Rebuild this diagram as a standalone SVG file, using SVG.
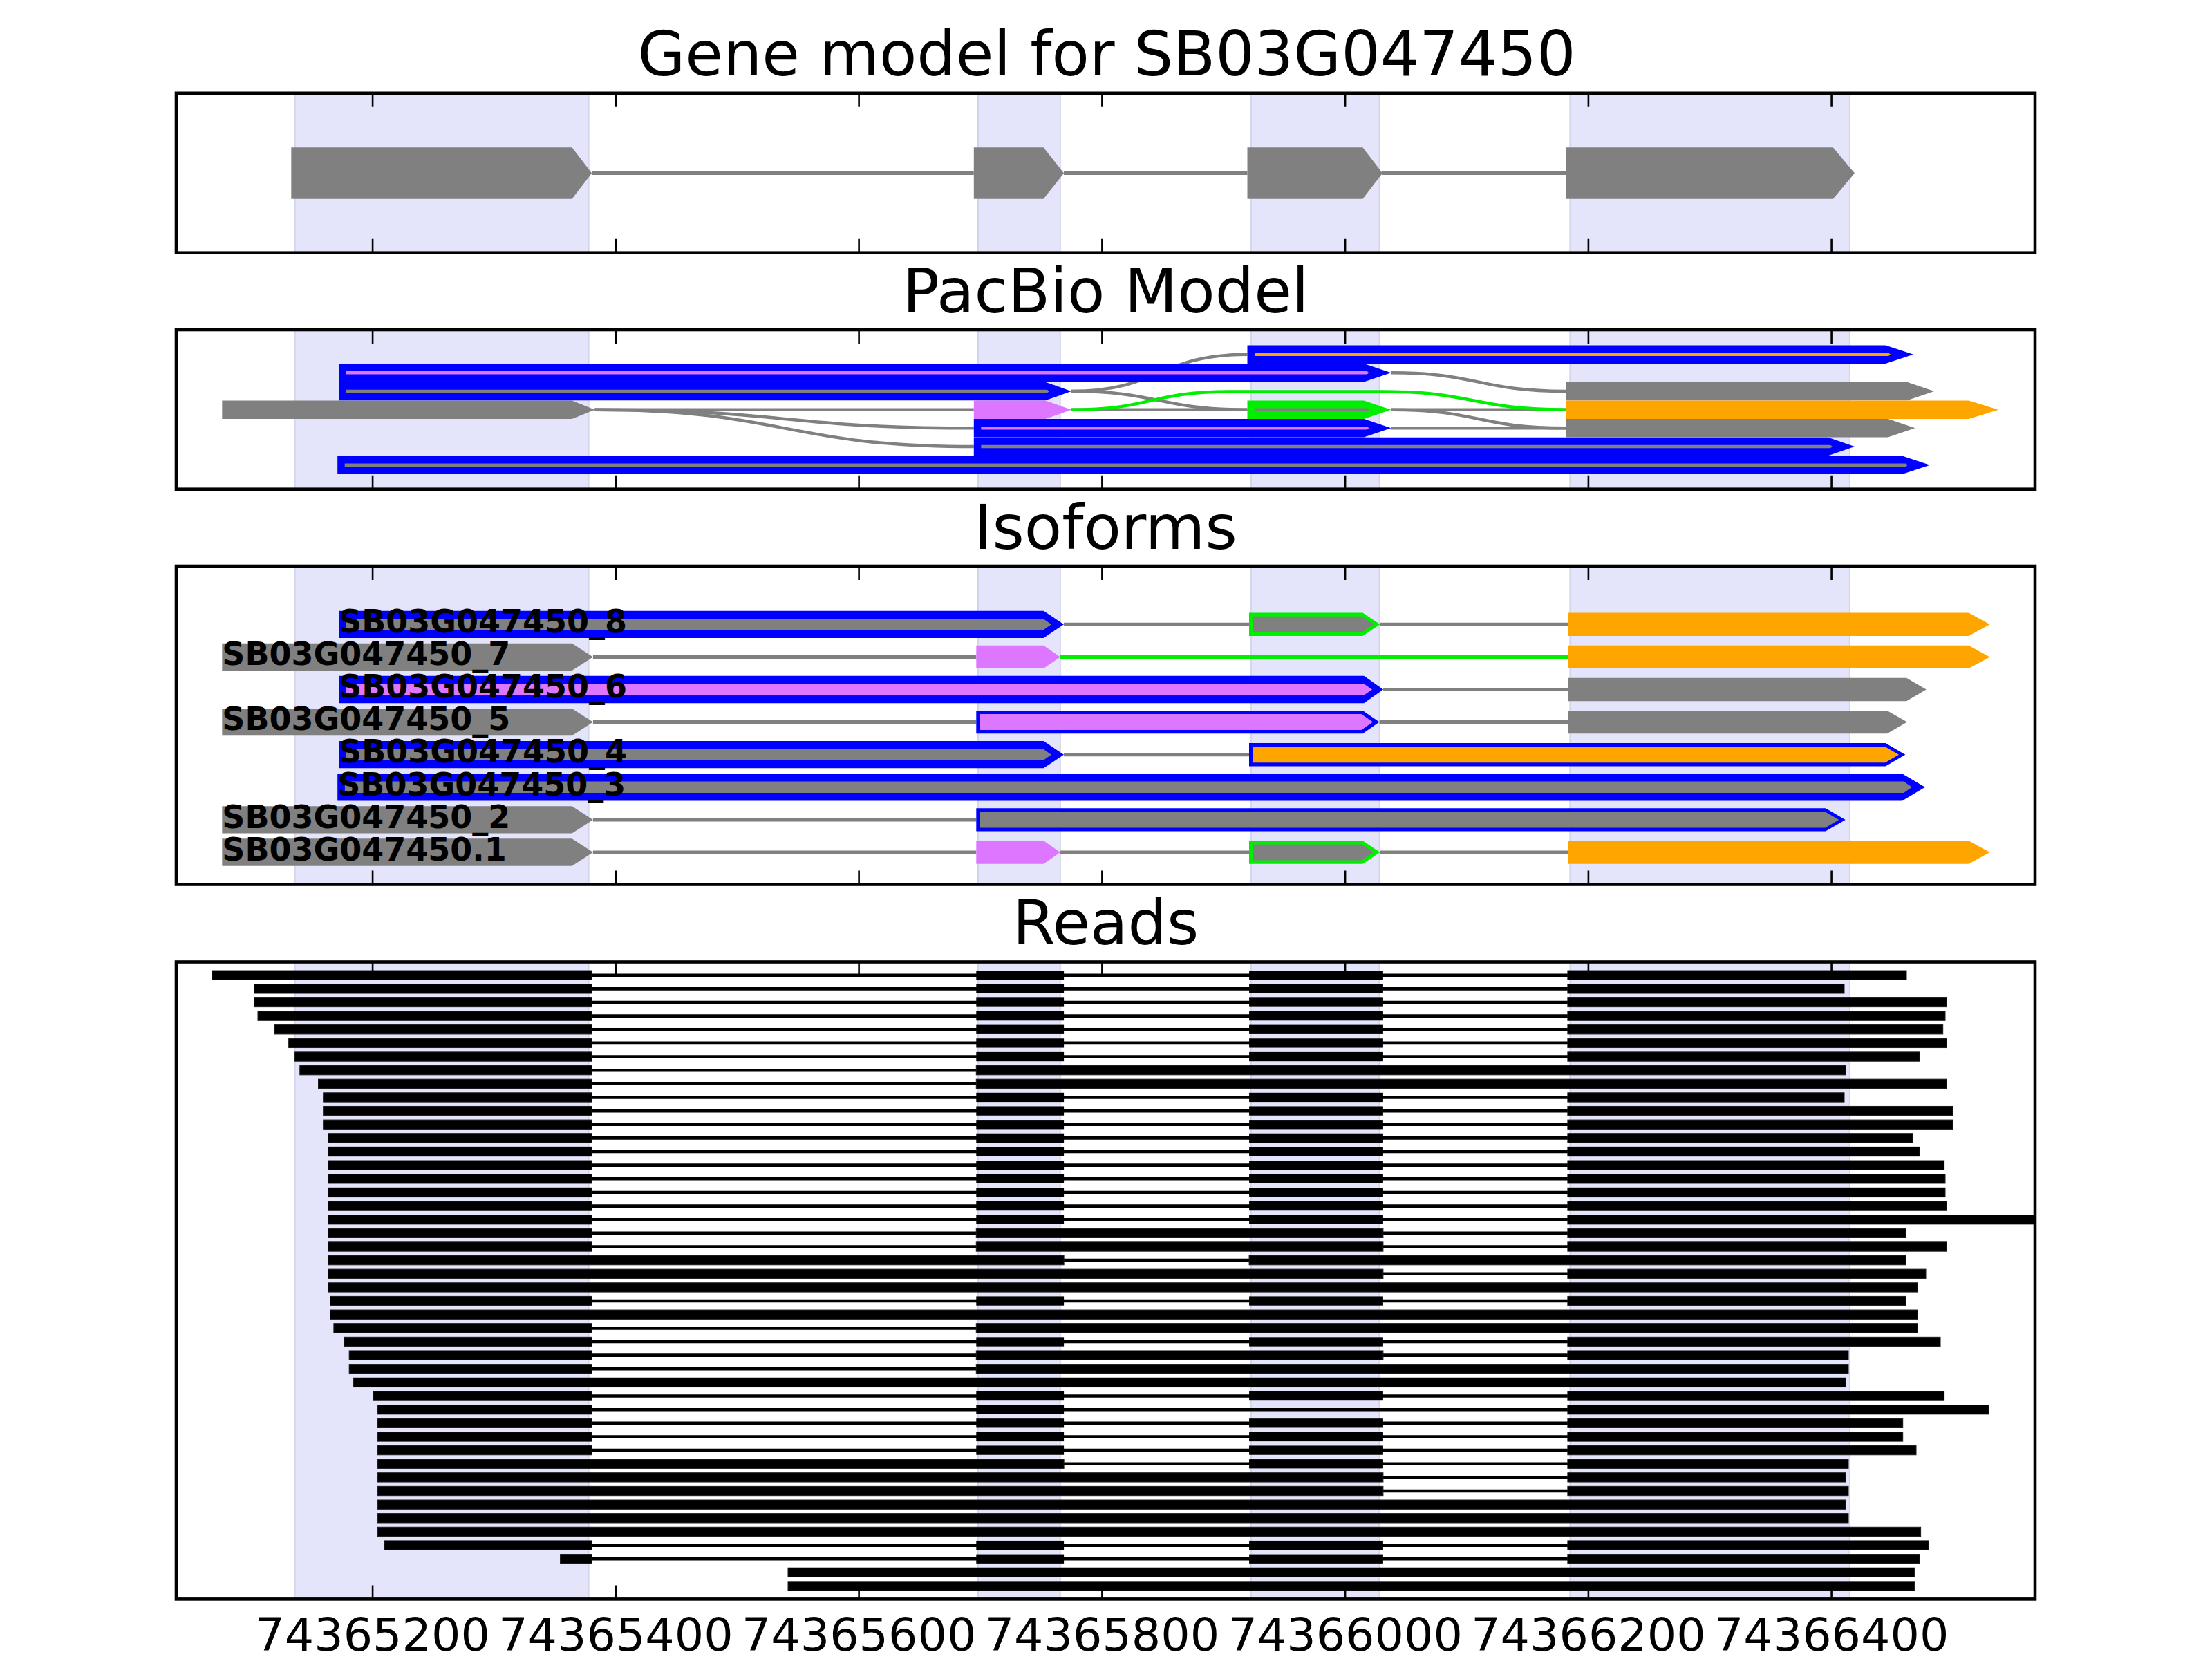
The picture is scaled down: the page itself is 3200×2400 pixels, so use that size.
<svg xmlns="http://www.w3.org/2000/svg" xmlns:xlink="http://www.w3.org/1999/xlink" width="3200" height="2400" viewBox="0 0 3200 2400">
<style>
.fr{fill:none;stroke:#000;stroke-width:4.6}
.tk{fill:none;stroke:#000;stroke-width:2.6}
.sh{fill:#e4e4fb;stroke:#d4d4ea;stroke-width:2}
.g{fill:#808080}
.pk{fill:#dd77ff}
.or{fill:#ffa500}
.bl{fill:#0000ff}
.gr{fill:#00ee00}
.in{fill:none;stroke:#808080;stroke-width:5}
.ing{fill:none;stroke:#00ee00;stroke-width:5}
.cn{fill:none;stroke:#808080;stroke-width:4.5}
.cg{fill:none;stroke:#00ee00;stroke-width:4.5}
.ttl{font-family:"DejaVu Sans",sans-serif;font-size:88.9px;text-anchor:middle;fill:#000}
.lab{font-family:"DejaVu Sans",sans-serif;font-weight:bold;font-size:46px;fill:#000}
.tl{font-family:"DejaVu Sans",sans-serif;font-size:66.7px;text-anchor:middle;fill:#000}
.rd rect{fill:#000;stroke:#1a1a1a;stroke-width:1}
.rd path{fill:none;stroke:#000;stroke-width:4.6}
</style>
<defs>
<rect id="b2" x="1412.3" y="-6.65" width="126.8" height="13.3"/>
<rect id="b3" x="1807.1" y="-6.65" width="193.8" height="13.3"/>
</defs>
<rect width="3200" height="2400" fill="#fff"/>

<!-- Panel 1: Gene model -->
<g id="panel1">
<text class="ttl" x="1601" y="109.3">Gene model for SB03G047450</text>
<g id="p1-shade">
<rect class="sh" x="426.6" y="134.8" width="425" height="230.9"/>
<rect class="sh" x="1415" y="134.8" width="118.8" height="230.9"/>
<rect class="sh" x="1809.8" y="134.8" width="185.7" height="230.9"/>
<rect class="sh" x="2271.4" y="134.8" width="404.5" height="230.9"/>
</g>
<g id="p1-introns">
<path class="in" d="M856 250.5H1408.8M1539 250.5H1804.5M2000 250.5H2265.2"/>
</g>
<g id="gm-exon1"><polygon class="g" points="421.3,213.3 827.5,213.3 856.1,250.5 827.5,287.7 421.3,287.7"/></g>
<g id="gm-exon2"><polygon class="g" points="1408.8,213.3 1509.6,213.3 1539.1,250.5 1509.6,287.7 1408.8,287.7"/></g>
<g id="gm-exon3"><polygon class="g" points="1804.5,213.3 1971.4,213.3 2000,250.5 1971.4,287.7 1804.5,287.7"/></g>
<g id="gm-exon4"><polygon class="g" points="2265.2,213.3 2651.8,213.3 2683,250.5 2651.8,287.7 2265.2,287.7"/></g>
<path class="tk" d="M539.1 134.8v20M890.9 134.8v20M1242.6 134.8v20M1594.4 134.8v20M1946.1 134.8v20M2297.9 134.8v20M2649.6 134.8v20M539.1 365.7v-20M890.9 365.7v-20M1242.6 365.7v-20M1594.4 365.7v-20M1946.1 365.7v-20M2297.9 365.7v-20M2649.6 365.7v-20"/>
<rect class="fr" x="255" y="134.8" width="2689" height="230.9"/>
</g>

<!-- Panel 2: PacBio Model -->
<g id="panel2">
<text class="ttl" x="1599.5" y="451.5">PacBio Model</text>
<g id="p2-shade">
<rect class="sh" x="426.6" y="477" width="425" height="230.7"/>
<rect class="sh" x="1415" y="477" width="118.8" height="230.7"/>
<rect class="sh" x="1809.8" y="477" width="185.7" height="230.7"/>
<rect class="sh" x="2271.4" y="477" width="404.5" height="230.7"/>
</g>
<g id="p2-connectors">
<path class="cn" d="M860.5 592.7H1408.8"/>
<path class="cn" d="M860.5 592.7C1134.6 592.7 1134.6 619.3 1408.8 619.3"/>
<path class="cn" d="M860.5 592.7C1134.6 592.7 1134.6 646 1408.8 646"/>
<path class="cn" d="M1549.9 566C1677 566 1677 512.7 1804.5 512.7"/>
<path class="cn" d="M1549.9 566C1677 566 1677 592.7 1804.5 592.7"/>
<path class="cn" d="M1549.9 592.7H1804.5"/>
<path class="cn" d="M2012.5 539.3C2139 539.3 2139 566 2265.2 566"/>
<path class="cn" d="M2012.5 592.7H2265.2"/>
<path class="cn" d="M2012.5 619.3H2265.2"/>
<path class="cn" d="M2012.5 592.7C2139 592.7 2139 619.3 2265.2 619.3"/>
<path class="cg" d="M1549.9 592.7C1665 592.7 1665 566.5 1780 566.5H2000C2132 566.5 2132 592.7 2265.2 592.7"/>
</g>
<g id="pb-A"><polygon class="g" points="321.3,579.4 827.5,579.4 860.5,592.7 827.5,606 321.3,606"/></g>
<g id="pb-B"><polygon class="bl" points="490,526 1973,526 2012.5,539.3 1973,552.6 490,552.6"/><polygon class="pk" points="500.5,537.1 1977.5,537.1 1980.5,539.3 1977.5,541.5 500.5,541.5"/></g>
<g id="pb-C"><polygon class="bl" points="490,552.7 1512.3,552.7 1549.9,566 1512.3,579.3 490,579.3"/><polygon class="g" points="500.5,563.8 1515,563.8 1518,566 1515,568.2 500.5,568.2"/></g>
<g id="pb-D"><polygon class="pk" points="1408.8,579.4 1512.4,579.4 1549.9,592.7 1512.4,606 1408.8,606"/></g>
<g id="pb-E"><polygon class="bl" points="1408.8,606 1973,606 2012.5,619.3 1973,632.6 1408.8,632.6"/><polygon class="pk" points="1419.3,617.1 1977.5,617.1 1980.5,619.3 1977.5,621.5 1419.3,621.5"/></g>
<g id="pb-F"><polygon class="bl" points="1408.8,632.7 2644.7,632.7 2683,646 2644.7,659.3 1408.8,659.3"/><polygon class="g" points="1419.3,643.8 2648,643.8 2651,646 2648,648.2 1419.3,648.2"/></g>
<g id="pb-G"><polygon class="bl" points="488.2,659.4 2751.8,659.4 2792,672.7 2751.8,686 488.2,686"/><polygon class="g" points="498.7,670.5 2757,670.5 2760,672.7 2757,674.9 498.7,674.9"/></g>
<g id="pb-H"><polygon class="gr" points="1804.5,579.4 1973,579.4 2012.5,592.7 1973,606 1804.5,606"/><polygon class="g" points="1815,590.5 1977.5,590.5 1980.5,592.7 1977.5,594.9 1815,594.9"/></g>
<g id="pb-I"><polygon class="bl" points="1804.5,499.4 2727.7,499.4 2767.9,512.7 2727.7,526 1804.5,526"/><polygon class="or" points="1815,510.5 2732,510.5 2735,512.7 2732,514.9 1815,514.9"/></g>
<g id="pb-J"><polygon class="g" points="2265.2,552.7 2759,552.7 2798.2,566 2759,579.3 2265.2,579.3"/></g>
<g id="pb-K"><polygon class="or" points="2265.2,579.4 2848.2,579.4 2891,592.7 2848.2,606 2265.2,606"/></g>
<g id="pb-L"><polygon class="g" points="2265.2,606 2731.3,606 2770.6,619.3 2731.3,632.6 2265.2,632.6"/></g>
<path class="tk" d="M539.1 477v20M890.9 477v20M1242.6 477v20M1594.4 477v20M1946.1 477v20M2297.9 477v20M2649.6 477v20M539.1 707.7v-20M890.9 707.7v-20M1242.6 707.7v-20M1594.4 707.7v-20M1946.1 707.7v-20M2297.9 707.7v-20M2649.6 707.7v-20"/>
<rect class="fr" x="255" y="477" width="2689" height="230.7"/>
</g>

<!-- Panel 3: Isoforms -->
<g id="panel3">
<text class="ttl" x="1599.5" y="793.5">Isoforms</text>
<g id="p3-shade">
<rect class="sh" x="426.6" y="819" width="425" height="460.5"/>
<rect class="sh" x="1415" y="819" width="118.8" height="460.5"/>
<rect class="sh" x="1809.8" y="819" width="185.7" height="460.5"/>
<rect class="sh" x="2271.4" y="819" width="404.5" height="460.5"/>
</g>
<g id="p3-connectors">
<path class="in" d="M1539 903.3H1807M1996.4 903.3H2268"/>
<path class="in" d="M857.9 950.4H1412.3"/>
<path class="ing" d="M1533.8 950.4H2268"/>
<path class="in" d="M2001 997.5H2268"/>
<path class="in" d="M857.9 1044.6H1412.3M1995.5 1044.6H2268"/>
<path class="in" d="M1539 1091.7H1807"/>
<path class="in" d="M857.9 1185.9H1412.3"/>
<path class="in" d="M857.9 1233H1412.3M1533.8 1233H1807M1996.4 1233H2268"/>
</g>
<g id="iso-8">
<polygon class="bl" points="490,883.65 1509.7,883.65 1539,903.3 1509.7,922.95 490,922.95"/>
<polygon class="g" points="500.7,895.1 1509,895.1 1521,903.3 1509,911.5 500.7,911.5"/>
<polygon class="gr" points="1807,886.6 1971.4,886.6 1996.4,903.3 1971.4,920 1807,920"/>
<polygon class="g" points="1812.5,891.8 1969.8,891.8 1987,903.3 1969.8,914.8 1812.5,914.8"/>
<polygon class="or" points="2268,886.6 2848,886.6 2878.6,903.3 2848,920 2268,920"/>
<text class="lab" x="490" y="915">SB03G047450_8</text>
</g>
<g id="iso-7">
<polygon class="g" points="321.3,930.75 827.5,930.75 857.9,950.4 827.5,970.05 321.3,970.05"/>
<polygon class="pk" points="1412.3,933.7 1509.7,933.7 1533.8,950.4 1509.7,967.1 1412.3,967.1"/>
<polygon class="or" points="2268,933.7 2848,933.7 2878.6,950.4 2848,967.1 2268,967.1"/>
<text class="lab" x="321.3" y="962.1">SB03G047450_7</text>
</g>
<g id="iso-6">
<polygon class="bl" points="490,977.85 1973.2,977.85 2001,997.5 1973.2,1017.15 490,1017.15"/>
<polygon class="pk" points="500.7,989.3 1973,989.3 1985,997.5 1973,1005.7 500.7,1005.7"/>
<polygon class="g" points="2268,980.8 2758,980.8 2786.7,997.5 2758,1014.2 2268,1014.2"/>
<text class="lab" x="490" y="1009.2">SB03G047450_6</text>
</g>
<g id="iso-5">
<polygon class="g" points="321.3,1024.95 827.5,1024.95 857.9,1044.6 827.5,1064.25 321.3,1064.25"/>
<polygon class="bl" points="1412.3,1027.9 1971.4,1027.9 1995.5,1044.6 1971.4,1061.3 1412.3,1061.3"/>
<polygon class="pk" points="1417.8,1033.1 1969.5,1033.1 1986.1,1044.6 1969.5,1056.1 1417.8,1056.1"/>
<polygon class="g" points="2268,1027.9 2730,1027.9 2759,1044.6 2730,1061.3 2268,1061.3"/>
<text class="lab" x="321.3" y="1056.3">SB03G047450_5</text>
</g>
<g id="iso-4">
<polygon class="bl" points="490,1072.05 1509.7,1072.05 1539,1091.7 1509.7,1111.35 490,1111.35"/>
<polygon class="g" points="500.7,1083.5 1509,1083.5 1521,1091.7 1509,1099.9 500.7,1099.9"/>
<polygon class="bl" points="1807,1075 2727.7,1075 2756.4,1091.7 2727.7,1108.4 1807,1108.4"/>
<polygon class="or" points="1812.5,1080.2 2727.2,1080.2 2747,1091.7 2727.2,1103.2 1812.5,1103.2"/>
<text class="lab" x="490" y="1103.4">SB03G047450_4</text>
</g>
<g id="iso-3">
<polygon class="bl" points="488.2,1119.15 2751.8,1119.15 2784.9,1138.8 2751.8,1158.45 488.2,1158.45"/>
<polygon class="g" points="498.9,1130.6 2754,1130.6 2766,1138.8 2754,1147 498.9,1147"/>
<text class="lab" x="488.2" y="1150.5">SB03G047450_3</text>
</g>
<g id="iso-2">
<polygon class="g" points="321.3,1166.25 827.5,1166.25 857.9,1185.9 827.5,1205.55 321.3,1205.55"/>
<polygon class="bl" points="1412.3,1169.2 2641,1169.2 2669.7,1185.9 2641,1202.6 1412.3,1202.6"/>
<polygon class="g" points="1417.8,1174.4 2640.5,1174.4 2660.3,1185.9 2640.5,1197.4 1417.8,1197.4"/>
<text class="lab" x="321.3" y="1197.6">SB03G047450_2</text>
</g>
<g id="iso-1">
<polygon class="g" points="321.3,1213.35 827.5,1213.35 857.9,1233 827.5,1252.65 321.3,1252.65"/>
<polygon class="pk" points="1412.3,1216.3 1509.7,1216.3 1533.8,1233 1509.7,1249.7 1412.3,1249.7"/>
<polygon class="gr" points="1807,1216.3 1971.4,1216.3 1996.4,1233 1971.4,1249.7 1807,1249.7"/>
<polygon class="g" points="1812.5,1221.5 1969.8,1221.5 1987,1233 1969.8,1244.5 1812.5,1244.5"/>
<polygon class="or" points="2268,1216.3 2848,1216.3 2878.6,1233 2848,1249.7 2268,1249.7"/>
<text class="lab" x="321.3" y="1244.7">SB03G047450.1</text>
</g>
<path class="tk" d="M539.1 819v20M890.9 819v20M1242.6 819v20M1594.4 819v20M1946.1 819v20M2297.9 819v20M2649.6 819v20M539.1 1279.5v-20M890.9 1279.5v-20M1242.6 1279.5v-20M1594.4 1279.5v-20M1946.1 1279.5v-20M2297.9 1279.5v-20M2649.6 1279.5v-20"/>
<rect class="fr" x="255" y="819" width="2689" height="460.5"/>
</g>

<!-- Panel 4: Reads -->
<g id="panel4">
<text class="ttl" x="1599.5" y="1366">Reads</text>
<g id="p4-shade">
<rect class="sh" x="426.6" y="1391.5" width="425" height="921.9"/>
<rect class="sh" x="1415" y="1391.5" width="118.8" height="921.9"/>
<rect class="sh" x="1809.8" y="1391.5" width="185.7" height="921.9"/>
<rect class="sh" x="2271.4" y="1391.5" width="404.5" height="921.9"/>
</g>
<g id="reads" class="rd">
<g transform="translate(0,1410.7)"><path d="M307 0H2758"/><rect x="307" y="-6.65" width="549.1" height="13.3"/><use xlink:href="#b2"/><use xlink:href="#b3"/><rect x="2267.9" y="-6.65" width="490.1" height="13.3"/></g>
<g transform="translate(0,1430.34)"><path d="M367.7 0H2668"/><rect x="367.7" y="-6.65" width="488.4" height="13.3"/><use xlink:href="#b2"/><use xlink:href="#b3"/><rect x="2267.9" y="-6.65" width="400.1" height="13.3"/></g>
<g transform="translate(0,1449.98)"><path d="M367.7 0H2816"/><rect x="367.7" y="-6.65" width="488.4" height="13.3"/><use xlink:href="#b2"/><use xlink:href="#b3"/><rect x="2267.9" y="-6.65" width="548.1" height="13.3"/></g>
<g transform="translate(0,1469.62)"><path d="M373 0H2814"/><rect x="373" y="-6.65" width="483.1" height="13.3"/><use xlink:href="#b2"/><use xlink:href="#b3"/><rect x="2267.9" y="-6.65" width="546.1" height="13.3"/></g>
<g transform="translate(0,1489.26)"><path d="M397.1 0H2810.7"/><rect x="397.1" y="-6.65" width="459" height="13.3"/><use xlink:href="#b2"/><use xlink:href="#b3"/><rect x="2267.9" y="-6.65" width="542.8" height="13.3"/></g>
<g transform="translate(0,1508.9)"><path d="M417.7 0H2816"/><rect x="417.7" y="-6.65" width="438.4" height="13.3"/><use xlink:href="#b2"/><use xlink:href="#b3"/><rect x="2267.9" y="-6.65" width="548.1" height="13.3"/></g>
<g transform="translate(0,1528.54)"><path d="M426.6 0H2777"/><rect x="426.6" y="-6.65" width="429.5" height="13.3"/><use xlink:href="#b2"/><use xlink:href="#b3"/><rect x="2267.9" y="-6.65" width="509.1" height="13.3"/></g>
<g transform="translate(0,1548.18)"><path d="M433.8 0H2670"/><rect x="433.8" y="-6.65" width="422.3" height="13.3"/><rect x="1412.3" y="-6.65" width="1257.7" height="13.3"/></g>
<g transform="translate(0,1567.82)"><path d="M460.5 0H2816"/><rect x="460.5" y="-6.65" width="395.6" height="13.3"/><rect x="1412.3" y="-6.65" width="1403.7" height="13.3"/></g>
<g transform="translate(0,1587.46)"><path d="M467.7 0H2668"/><rect x="467.7" y="-6.65" width="388.4" height="13.3"/><use xlink:href="#b2"/><use xlink:href="#b3"/><rect x="2267.9" y="-6.65" width="400.1" height="13.3"/></g>
<g transform="translate(0,1607.1)"><path d="M467.7 0H2825"/><rect x="467.7" y="-6.65" width="388.4" height="13.3"/><use xlink:href="#b2"/><use xlink:href="#b3"/><rect x="2267.9" y="-6.65" width="557.1" height="13.3"/></g>
<g transform="translate(0,1626.74)"><path d="M467.7 0H2825"/><rect x="467.7" y="-6.65" width="388.4" height="13.3"/><use xlink:href="#b2"/><use xlink:href="#b3"/><rect x="2267.9" y="-6.65" width="557.1" height="13.3"/></g>
<g transform="translate(0,1646.38)"><path d="M474.8 0H2767"/><rect x="474.8" y="-6.65" width="381.3" height="13.3"/><use xlink:href="#b2"/><use xlink:href="#b3"/><rect x="2267.9" y="-6.65" width="499.1" height="13.3"/></g>
<g transform="translate(0,1666.02)"><path d="M474.8 0H2777"/><rect x="474.8" y="-6.65" width="381.3" height="13.3"/><use xlink:href="#b2"/><use xlink:href="#b3"/><rect x="2267.9" y="-6.65" width="509.1" height="13.3"/></g>
<g transform="translate(0,1685.66)"><path d="M474.8 0H2812.6"/><rect x="474.8" y="-6.65" width="381.3" height="13.3"/><use xlink:href="#b2"/><use xlink:href="#b3"/><rect x="2267.9" y="-6.65" width="544.7" height="13.3"/></g>
<g transform="translate(0,1705.3)"><path d="M474.8 0H2814"/><rect x="474.8" y="-6.65" width="381.3" height="13.3"/><use xlink:href="#b2"/><use xlink:href="#b3"/><rect x="2267.9" y="-6.65" width="546.1" height="13.3"/></g>
<g transform="translate(0,1724.94)"><path d="M474.8 0H2814"/><rect x="474.8" y="-6.65" width="381.3" height="13.3"/><use xlink:href="#b2"/><use xlink:href="#b3"/><rect x="2267.9" y="-6.65" width="546.1" height="13.3"/></g>
<g transform="translate(0,1744.58)"><path d="M474.8 0H2816"/><rect x="474.8" y="-6.65" width="381.3" height="13.3"/><use xlink:href="#b2"/><use xlink:href="#b3"/><rect x="2267.9" y="-6.65" width="548.1" height="13.3"/></g>
<g transform="translate(0,1764.22)"><path d="M474.8 0H2944"/><rect x="474.8" y="-6.65" width="381.3" height="13.3"/><use xlink:href="#b2"/><use xlink:href="#b3"/><rect x="2267.9" y="-6.65" width="676.1" height="13.3"/></g>
<g transform="translate(0,1783.86)"><path d="M474.8 0H2757"/><rect x="474.8" y="-6.65" width="381.3" height="13.3"/><rect x="1412.3" y="-6.65" width="588.6" height="13.3"/><rect x="2267.9" y="-6.65" width="489.1" height="13.3"/></g>
<g transform="translate(0,1803.5)"><path d="M474.8 0H2816"/><rect x="474.8" y="-6.65" width="381.3" height="13.3"/><rect x="1412.3" y="-6.65" width="588.6" height="13.3"/><rect x="2267.9" y="-6.65" width="548.1" height="13.3"/></g>
<g transform="translate(0,1823.14)"><path d="M474.8 0H2757"/><rect x="474.8" y="-6.65" width="1064.3" height="13.3"/><rect x="1807.1" y="-6.65" width="949.9" height="13.3"/></g>
<g transform="translate(0,1842.78)"><path d="M474.8 0H2786"/><rect x="474.8" y="-6.65" width="1526.1" height="13.3"/><rect x="2267.9" y="-6.65" width="518.1" height="13.3"/></g>
<g transform="translate(0,1862.42)"><rect x="474.8" y="-6.65" width="2299.2" height="13.3"/></g>
<g transform="translate(0,1882.06)"><path d="M477.5 0H2757"/><rect x="477.5" y="-6.65" width="378.6" height="13.3"/><use xlink:href="#b2"/><use xlink:href="#b3"/><rect x="2267.9" y="-6.65" width="489.1" height="13.3"/></g>
<g transform="translate(0,1901.7)"><rect x="477.5" y="-6.65" width="2296.5" height="13.3"/></g>
<g transform="translate(0,1921.34)"><path d="M482.9 0H2774"/><rect x="482.9" y="-6.65" width="373.2" height="13.3"/><rect x="1412.3" y="-6.65" width="1361.7" height="13.3"/></g>
<g transform="translate(0,1940.98)"><path d="M498 0H2807"/><rect x="498" y="-6.65" width="358.1" height="13.3"/><use xlink:href="#b2"/><use xlink:href="#b3"/><rect x="2267.9" y="-6.65" width="539.1" height="13.3"/></g>
<g transform="translate(0,1960.62)"><path d="M505.2 0H2674"/><rect x="505.2" y="-6.65" width="350.9" height="13.3"/><rect x="1412.3" y="-6.65" width="588.6" height="13.3"/><rect x="2267.9" y="-6.65" width="406.1" height="13.3"/></g>
<g transform="translate(0,1980.26)"><path d="M505.2 0H2674"/><rect x="505.2" y="-6.65" width="350.9" height="13.3"/><rect x="1412.3" y="-6.65" width="1261.7" height="13.3"/></g>
<g transform="translate(0,1999.9)"><rect x="511.4" y="-6.65" width="2158.6" height="13.3"/></g>
<g transform="translate(0,2019.54)"><path d="M540 0H2812.6"/><rect x="540" y="-6.65" width="316.1" height="13.3"/><use xlink:href="#b2"/><use xlink:href="#b3"/><rect x="2267.9" y="-6.65" width="544.7" height="13.3"/></g>
<g transform="translate(0,2039.18)"><path d="M546.3 0H2877"/><rect x="546.3" y="-6.65" width="309.8" height="13.3"/><use xlink:href="#b2"/><rect x="2267.9" y="-6.65" width="609.1" height="13.3"/></g>
<g transform="translate(0,2058.82)"><path d="M546.3 0H2752.7"/><rect x="546.3" y="-6.65" width="309.8" height="13.3"/><use xlink:href="#b2"/><use xlink:href="#b3"/><rect x="2267.9" y="-6.65" width="484.8" height="13.3"/></g>
<g transform="translate(0,2078.46)"><path d="M546.3 0H2752.7"/><rect x="546.3" y="-6.65" width="309.8" height="13.3"/><use xlink:href="#b2"/><use xlink:href="#b3"/><rect x="2267.9" y="-6.65" width="484.8" height="13.3"/></g>
<g transform="translate(0,2098.1)"><path d="M546.3 0H2772"/><rect x="546.3" y="-6.65" width="309.8" height="13.3"/><use xlink:href="#b2"/><use xlink:href="#b3"/><rect x="2267.9" y="-6.65" width="504.1" height="13.3"/></g>
<g transform="translate(0,2117.74)"><path d="M546.3 0H2674"/><rect x="546.3" y="-6.65" width="992.8" height="13.3"/><use xlink:href="#b3"/><rect x="2267.9" y="-6.65" width="406.1" height="13.3"/></g>
<g transform="translate(0,2137.38)"><path d="M546.3 0H2670"/><rect x="546.3" y="-6.65" width="1454.6" height="13.3"/><rect x="2267.9" y="-6.65" width="402.1" height="13.3"/></g>
<g transform="translate(0,2157.02)"><path d="M546.3 0H2674"/><rect x="546.3" y="-6.65" width="1454.6" height="13.3"/><rect x="2267.9" y="-6.65" width="406.1" height="13.3"/></g>
<g transform="translate(0,2176.66)"><rect x="546.3" y="-6.65" width="2123.7" height="13.3"/></g>
<g transform="translate(0,2196.3)"><rect x="546.3" y="-6.65" width="2127.7" height="13.3"/></g>
<g transform="translate(0,2215.94)"><rect x="546.3" y="-6.65" width="2232.3" height="13.3"/></g>
<g transform="translate(0,2235.58)"><path d="M556.1 0H2790"/><rect x="556.1" y="-6.65" width="300" height="13.3"/><use xlink:href="#b2"/><use xlink:href="#b3"/><rect x="2267.9" y="-6.65" width="522.1" height="13.3"/></g>
<g transform="translate(0,2255.22)"><path d="M810.6 0H2777"/><rect x="810.6" y="-6.65" width="45.5" height="13.3"/><use xlink:href="#b2"/><use xlink:href="#b3"/><rect x="2267.9" y="-6.65" width="509.1" height="13.3"/></g>
<g transform="translate(0,2274.86)"><rect x="1140" y="-6.65" width="1629.7" height="13.3"/></g>
<g transform="translate(0,2294.5)"><rect x="1140" y="-6.65" width="1629.7" height="13.3"/></g>
</g>
<path class="tk" d="M539.1 1391.5v20M890.9 1391.5v20M1242.6 1391.5v20M1594.4 1391.5v20M1946.1 1391.5v20M2297.9 1391.5v20M2649.6 1391.5v20M539.1 2313.4v-20M890.9 2313.4v-20M1242.6 2313.4v-20M1594.4 2313.4v-20M1946.1 2313.4v-20M2297.9 2313.4v-20M2649.6 2313.4v-20"/>
<rect class="fr" x="255" y="1391.5" width="2689" height="921.9"/>
<g id="xticklabels">
<text class="tl" x="539.1" y="2388">74365200</text>
<text class="tl" x="890.9" y="2388">74365400</text>
<text class="tl" x="1242.6" y="2388">74365600</text>
<text class="tl" x="1594.4" y="2388">74365800</text>
<text class="tl" x="1946.1" y="2388">74366000</text>
<text class="tl" x="2297.9" y="2388">74366200</text>
<text class="tl" x="2649.6" y="2388">74366400</text>
</g>
</g>
</svg>
